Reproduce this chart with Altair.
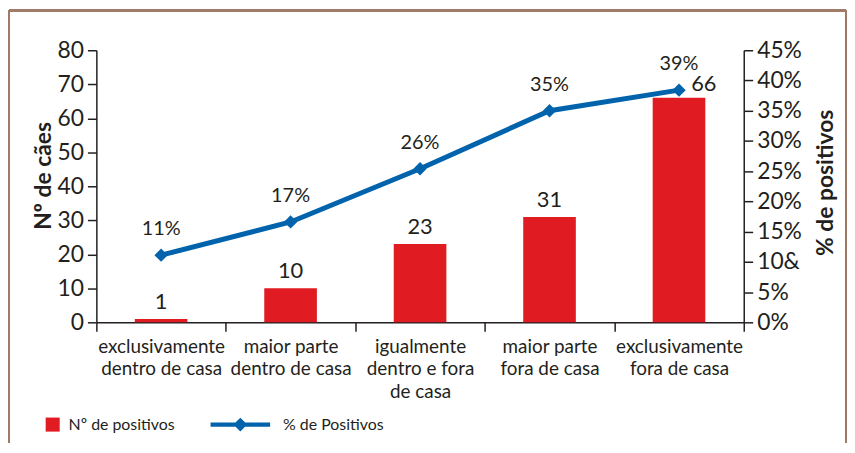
import altair as alt
import pandas as pd

categories = [
    "exclusivamente\ndentro de casa",
    "maior parte\ndentro de casa",
    "igualmente\ndentro e fora\nde casa",
    "maior parte\nfora de casa",
    "exclusivamente\nfora de casa",
]
n_positivos = [1, 10, 23, 31, 66]
pct_positivos = [11.1, 16.6, 25.4, 35.0, 38.4]
pct_labels = ["11%", "17%", "26%", "35%", "39%"]
bar_labels = ["1", "10", "23", "31", "66"]
left_ticks = [0, 10, 20, 30, 40, 50, 60, 70, 80]
right_ticks = [0, 5, 10, 15, 20, 25, 30, 35, 40, 45]

RED = "#e01b22"
BLUE = "#0063ac"
INK = "#231f20"
FONT = "Lato"

df = pd.DataFrame({
    "cat": categories,
    "n": n_positivos,
    "pct": pct_positivos,
    "pct_label": pct_labels,
    "n_label": bar_labels,
    "s1": ["Nº de positivos"] * 5,
    "s2": ["% de Positivos"] * 5,
})

base = alt.Chart(df)

x_enc = alt.X(
    "cat:N",
    sort=categories,
    scale=alt.Scale(paddingInner=0, paddingOuter=0),
    axis=alt.Axis(
        title=None,
        labelExpr="split(datum.label, '\\n')",
        labelAngle=0,
        labelFontSize=19,
        labelLineHeight=23,
        labelPadding=6,
        labelColor=INK,
        labelFont=FONT,
        tickBand="extent",
        tickSize=9,
        tickColor=INK,
        domainColor=INK,
        labelBaseline="top",
    ),
)

y_left_axis = alt.Axis(
    title="Nº de cães",
    values=left_ticks,
    tickCount=len(left_ticks),
    labelOverlap=False,
    labelFlush=False,
    titleFontSize=23,
    titleFontWeight="bold",
    titleFont=FONT,
    titleColor=INK,
    titleX=-41,
    titleY=126,
    labelFontSize=23,
    labelFont=FONT,
    labelColor=INK,
    labelPadding=4,
    tickSize=9,
    tickColor=INK,
    domainColor=INK,
    grid=False,
)
y_left = alt.Y("n:Q", scale=alt.Scale(domain=[0, 80], nice=False), axis=y_left_axis)

bars = base.mark_bar(size=53).encode(
    x=x_enc,
    y=y_left,
    fill=alt.Fill(
        "s1:N",
        scale=alt.Scale(domain=["Nº de positivos"], range=[RED]),
        legend=alt.Legend(
            title=None,
            orient="none",
            legendX=-52,
            legendY=369,
            symbolType="square",
            symbolSize=200,
            symbolStrokeWidth=0,
            labelFontSize=16,
            labelFont=FONT,
            labelColor=INK,
            labelOffset=8,
            padding=0,
        ),
    ),
)

bar_text = base.transform_filter(
    alt.datum.cat != categories[-1]
).mark_text(fontSize=22, font=FONT, color=INK, baseline="bottom", dy=-5).encode(
    x=x_enc,
    y=y_left,
    text="n_label:N",
)

bar_text_last = base.transform_filter(
    alt.datum.cat == categories[-1]
).mark_text(fontSize=22, font=FONT, color=INK, baseline="bottom", dx=25, dy=-2).encode(
    x=x_enc,
    y=y_left,
    text="n_label:N",
)

y_right_axis = alt.Axis(
    title="% de positivos",
    orient="right",
    values=right_ticks,
    tickCount=len(right_ticks),
    labelOverlap=False,
    labelFlush=False,
    labelExpr="datum.value == 10 ? '10&' : datum.value + '%'",
    titleFontSize=23,
    titleFontWeight="bold",
    titleFont=FONT,
    titleColor=INK,
    titleAngle=270,
    titleX=94,
    titleY=133,
    labelFontSize=23,
    labelFont=FONT,
    labelColor=INK,
    labelPadding=4,
    tickSize=9,
    tickColor=INK,
    domainColor=INK,
    grid=False,
)
y_right = alt.Y("pct:Q", scale=alt.Scale(domain=[0, 45], nice=False), axis=y_right_axis)

line = base.mark_line(strokeWidth=5).encode(
    x=x_enc,
    y=y_right,
    stroke=alt.Stroke(
        "s2:N",
        scale=alt.Scale(domain=["% de Positivos"], range=[BLUE]),
        legend=alt.Legend(
            title=None,
            orient="none",
            legendX=135,
            legendY=367,
            symbolType="M-3,-0.22 L3,-0.22 L3,0.22 L-3,0.22 Z M0,-0.7 L0.7,0 L0,0.7 L-0.7,0 Z",
            symbolSize=400,
            symbolFillColor=BLUE,
            symbolStrokeWidth=0,
            labelFontSize=16,
            labelFont=FONT,
            labelColor=INK,
            labelOffset=33,
            padding=0,
        ),
    ),
)

points = base.mark_point(shape="diamond", filled=True, size=180, color=BLUE, opacity=1).encode(
    x=x_enc,
    y=y_right,
)

pct_text = base.mark_text(fontSize=20, font=FONT, color=INK, baseline="bottom", dy=-16).encode(
    x=x_enc,
    y=y_right,
    text="pct_label:N",
)

FRAME = "#a07a66"
frame_left = base.mark_rule(color=FRAME, strokeWidth=2).encode(
    x=alt.value(-88), y=alt.value(-40), y2=alt.value(395)
)
frame_top = base.mark_rule(color=FRAME, strokeWidth=2).encode(
    x=alt.value(-88), x2=alt.value(755), y=alt.value(-40)
)
frame_right = base.mark_rule(color=FRAME, strokeWidth=2).encode(
    x=alt.value(755), y=alt.value(-40), y2=alt.value(395)
)

left = alt.layer(bars, bar_text, bar_text_last)
right = alt.layer(line, points, pct_text)

chart = alt.layer(left, right, frame_left, frame_top, frame_right).resolve_scale(
    y="independent", fill="independent", stroke="independent"
).properties(
    width=652, height=274, padding=0
).configure_view(stroke=None).configure_axis(domainWidth=1.5, tickWidth=1.5)

chart.save("out.html", embed_options={"renderer": "svg", "actions": False})
